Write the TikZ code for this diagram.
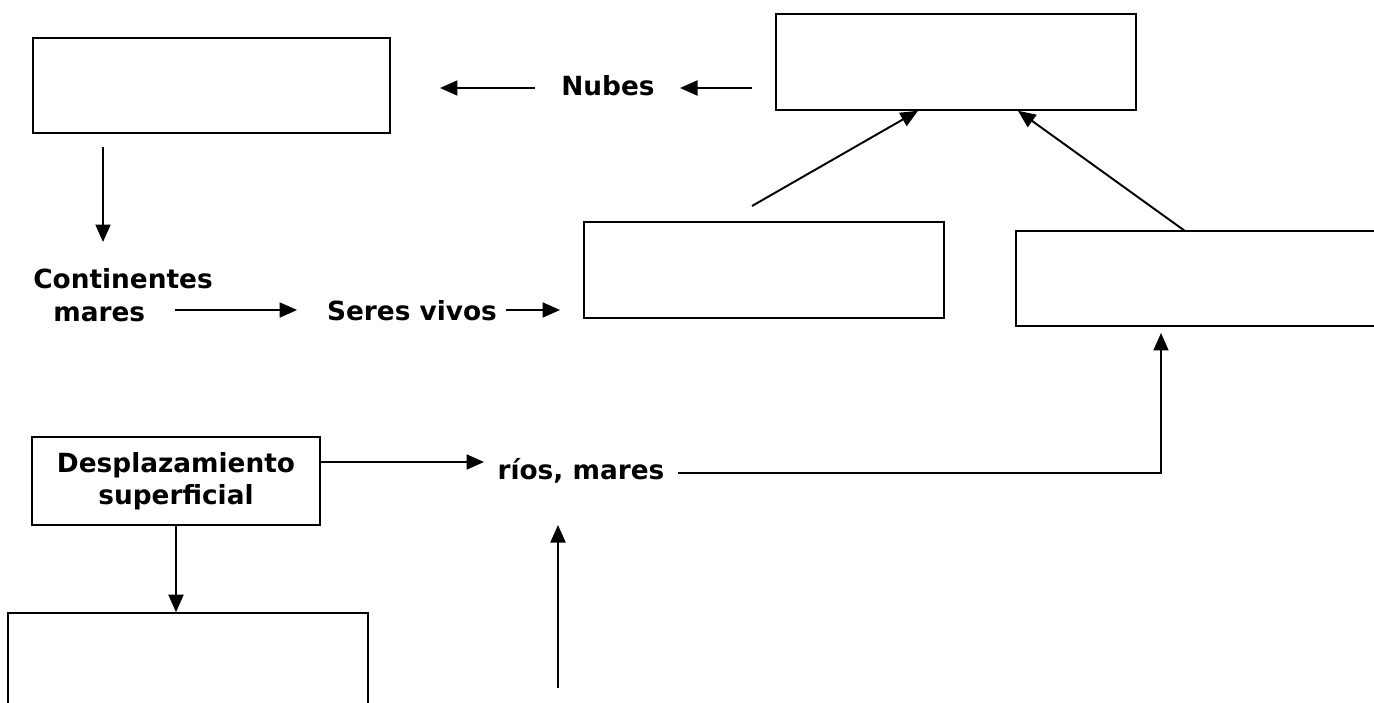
\documentclass[tikz,border=0pt]{standalone}
\usepackage{fontspec}
\setmainfont{DejaVu Sans}
\usepackage{tikz}
\usetikzlibrary{positioning,arrows.meta}
\tikzset{caja/.style={draw, line width=0.9pt, minimum width=7.2cm, minimum height=1.92cm}}
\tikzset{flecha/.style={line width=1.1pt, -{Triangle[length=3.5mm, width=3mm]}}}
\tikzset{texto/.style={font=\bfseries\fontsize{15}{18.5}\selectfont, align=center, inner sep=0pt}}

\begin{document}
\begin{tikzpicture}[x=0.02cm, y=-0.02cm]
            \useasboundingbox (0,0) rectangle (1374,703);
            \clip (0,0) rectangle (1374,703);
            \fill[white] (0,0) rectangle (1374,703);

            \node[caja, minimum width=7.14cm, minimum height=1.9cm] (precip) at (211.5,85.5) {};
            \node[caja] (vapor) at (956,62) {};
            \node[caja] (transp) at (764,270) {};
            \node[caja, minimum height=1.9cm] (evap) at (1196,278.5) {};
            \node[caja] (infiltr) at (188,661) {};
            \node[caja, texto, minimum width=5.76cm, minimum height=1.76cm] (despl) at (176,481) {Desplazamiento\\superficial};

            \node[texto] (nubes) at (608,86) {Nubes};
            \node[texto, align=left, anchor=west] (cont) at (33,295) {Continentes\\\hspace*{0.4cm}mares};
            \node[texto] (seres) at (412,311) {Seres vivos};
            \node[texto] (rios) at (581,471) {ríos, mares};

            \coordinate (n1) at (752,88);
            \coordinate (n2) at (680,88);
            \coordinate (n3) at (535,88);
            \coordinate (n4) at (440,88);
            \coordinate (p1) at (103,147);
            \coordinate (p2) at (103,242);
            \coordinate (m1) at (175,310);
            \coordinate (m2) at (297,310);
            \coordinate (s1) at (506,310);
            \coordinate (s2) at (560,310);
            \coordinate (t1) at (752,206);
            \coordinate (e1) at (1185,231);
            \coordinate (r1) at (678,473);
            \coordinate (r2) at (1161,333);
            \coordinate (u1) at (558,688);
            \coordinate (u2) at (558,525);

            \draw[flecha] (n1) to (n2);
            \draw[flecha] (n3) to (n4);
            \draw[flecha] (p1) to (p2);
            \draw[flecha] (m1) to (m2);
            \draw[flecha] (s1) to (s2);
            \draw[flecha] (t1) to (vapor.south -| 918,0);
            \draw[flecha] (e1) to (vapor.south -| 1018,0);
            \draw[flecha] (despl.east |- 0,462) to (484,462);
            \draw[flecha] (r1) -- (r1 -| r2) -- (r2);
            \draw[flecha] (u1) to (u2);
            \draw[flecha] (despl.south) to (infiltr.north -| despl.south);
        \end{tikzpicture}
\end{document}
